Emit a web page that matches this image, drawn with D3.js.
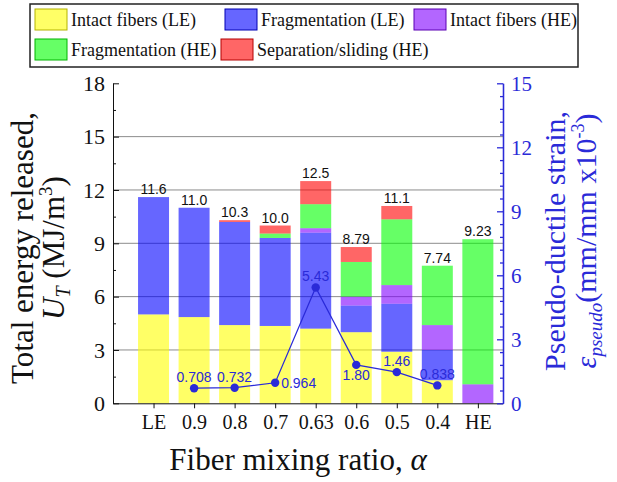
<!DOCTYPE html>
<html>
<head>
<meta charset="utf-8">
<script src="https://cdn.jsdelivr.net/npm/d3@7"></script>
<style>
  body { margin: 0; background: #fff; }
  .serif { font-family: "Liberation Serif", "Times New Roman", serif; }
  .sans { font-family: "Liberation Sans", Arial, sans-serif; }
</style>
</head>
<body>
<svg id="chart" width="617" height="482"></svg>
<script>
// Chart data
var categories = ["LE", "0.9", "0.8", "0.7", "0.63", "0.6", "0.5", "0.4", "HE"];
var intactLE = [5.0, 4.85, 4.4, 4.35, 4.2, 4.0, 2.9, 1.3, 0];
var fragLE = [6.6, 6.15, 5.8, 4.95, 5.4, 1.5, 2.7, 1.7, 0];
var intactHE = [0, 0, 0, 0, 0.25, 0.5, 1.05, 1.4, 1.07];
var fragHE = [0, 0, 0, 0.25, 1.35, 1.95, 3.7, 3.34, 8.16];
var sepHE = [0, 0, 0.1, 0.45, 1.3, 0.84, 0.75, 0, 0];
var totalLabels = ["11.6", "11.0", "10.3", "10.0", "12.5", "8.79", "11.1", "7.74", "9.23"];

var strainCats = ["0.9", "0.8", "0.7", "0.63", "0.6", "0.5", "0.4"];
var strainValues = [0.708, 0.732, 0.964, 5.43, 1.80, 1.46, 0.838];
var strainLabels = ["0.708", "0.732", "0.964", "5.43", "1.80", "1.46", "0.838"];

var leftTicks = [0, 3, 6, 9, 12, 15, 18];
var rightTicks = [0, 3, 6, 9, 12, 15];

var seriesKeys = ["intactLE", "fragLE", "intactHE", "fragHE", "sepHE"];
var seriesNames = ["Intact fibers (LE)", "Fragmentation (LE)", "Intact fibers (HE)", "Fragmentation (HE)", "Separation/sliding (HE)"];

// styles
var COLORS = ["#ffff00", "#0000ff", "#8000ff", "#00ff00", "#ff0000"];
var BLUE = "#2a2ad8";
var LABEL_POS = ["above", "above", "right", "above", "below", "above", "above"];

var svg = d3.select("#chart");

var x = d3.scaleLinear().domain([0, 9.62]).range([113, 503]);
var yL = d3.scaleLinear().domain([0, 18]).range([403.3, 83.3]);
var yR = d3.scaleLinear().domain([0, 15]).range([403.3, 83.3]);
var BAR_W = 31;

// table for the stack
var table = categories.map(function (c, i) {
  return {cat: c, idx: i + 1, intactLE: intactLE[i], fragLE: fragLE[i],
          intactHE: intactHE[i], fragHE: fragHE[i], sepHE: sepHE[i]};
});
var stacked = d3.stack().keys(seriesKeys)(table);

// grid lines
svg.append("g").selectAll("line")
  .data([3, 6, 9, 12, 15])
  .enter().append("line")
  .attr("x1", x(0)).attr("x2", x(9.62))
  .attr("y1", function (d) { return yL(d); })
  .attr("y2", function (d) { return yL(d); })
  .attr("stroke", "#8c8c8c")
  .attr("stroke-width", 1);

// bars
svg.append("g").selectAll("g")
  .data(stacked)
  .enter().append("g")
  .attr("fill", function (d, i) { return COLORS[i]; })
  .attr("fill-opacity", 0.6)
  .selectAll("rect")
  .data(function (d) { return d; })
  .enter().append("rect")
  .attr("x", function (d) { return x(d.data.idx) - BAR_W / 2; })
  .attr("width", BAR_W)
  .attr("y", function (d) { return yL(d[1]); })
  .attr("height", function (d) { return yL(d[0]) - yL(d[1]); });

// totals above bars
svg.append("g").selectAll("text")
  .data(table)
  .enter().append("text")
  .attr("class", "sans")
  .attr("x", function (d) { return x(d.idx); })
  .attr("y", function (d) { return yL(d.intactLE + d.fragLE + d.intactHE + d.fragHE + d.sepHE) - 3; })
  .attr("text-anchor", "middle")
  .attr("font-size", 14)
  .attr("fill", "#111")
  .text(function (d, i) { return totalLabels[i]; });

// left axis
var leftAxis = svg.append("g")
  .attr("transform", "translate(" + x(0) + ",0)")
  .call(d3.axisLeft(yL).tickValues(leftTicks).tickSize(-6).tickSizeOuter(0).tickPadding(8));
leftAxis.selectAll("text").attr("class", "serif").attr("font-size", 22).attr("fill", "#111");
leftAxis.selectAll("line, path").attr("stroke", "#111");
svg.append("g")
  .attr("transform", "translate(" + x(0) + ",0)")
  .call(d3.axisLeft(yL).tickValues([1.5, 4.5, 7.5, 10.5, 13.5, 16.5]).tickSize(-3).tickSizeOuter(0).tickFormat(""))
  .selectAll("line, path").attr("stroke", "#111");

// bottom axis
var bottomAxis = svg.append("g")
  .attr("transform", "translate(0," + yL(0) + ")")
  .call(d3.axisBottom(x).tickValues(d3.range(1, 10)).tickSize(5).tickSizeOuter(0).tickPadding(7)
    .tickFormat(function (d) { return categories[d - 1]; }));
bottomAxis.selectAll("text").attr("class", "serif").attr("font-size", 20).attr("fill", "#111");
bottomAxis.selectAll("line, path").attr("stroke", "#111");

// right axis
var rightAxis = svg.append("g")
  .attr("transform", "translate(" + x(9.62) + ",0)")
  .call(d3.axisRight(yR).tickValues(rightTicks).tickSize(-6).tickSizeOuter(0).tickPadding(8));
rightAxis.selectAll("text").attr("class", "serif").attr("font-size", 21).attr("fill", BLUE);
rightAxis.selectAll("line, path").attr("stroke", BLUE).attr("stroke-width", 1.3);
svg.append("g")
  .attr("transform", "translate(" + x(9.62) + ",0)")
  .call(d3.axisRight(yR).tickValues(d3.range(0, 15.01, 0.6).filter(function (v) {
      return Math.abs(v / 3 - Math.round(v / 3)) > 0.01; }))
    .tickSize(-3).tickSizeOuter(0).tickFormat(""))
  .selectAll("line, path").attr("stroke", BLUE).attr("stroke-width", 1.3);

// strain line
var strainX = function (d, i) { return x(categories.indexOf(strainCats[i]) + 1); };
svg.append("path")
  .datum(strainValues)
  .attr("fill", "none")
  .attr("stroke", BLUE)
  .attr("stroke-width", 1.2)
  .attr("d", d3.line().x(strainX).y(function (d) { return yR(d); }));

svg.append("g").selectAll("circle")
  .data(strainValues)
  .enter().append("circle")
  .attr("cx", strainX)
  .attr("cy", function (d) { return yR(d); })
  .attr("r", 4.2)
  .attr("fill", BLUE);

svg.append("g").selectAll("text")
  .data(strainValues)
  .enter().append("text")
  .attr("class", "sans")
  .attr("font-size", 14)
  .attr("fill", BLUE)
  .attr("text-anchor", function (d, i) { return LABEL_POS[i] == "right" ? "start" : "middle"; })
  .attr("x", function (d, i) {
    return LABEL_POS[i] == "right" ? strainX(d, i) + 6 : strainX(d, i);
  })
  .attr("y", function (d, i) {
    if (LABEL_POS[i] == "right") return yR(d) + 5;
    if (LABEL_POS[i] == "below") return yR(d) + 15;
    return yR(d) - 6;
  })
  .text(function (d, i) { return strainLabels[i]; });

// axis titles
var lt = svg.append("g").attr("class", "serif").attr("font-size", 31).attr("fill", "#111");
lt.append("text")
  .attr("transform", "translate(33,248) rotate(-90)")
  .attr("text-anchor", "middle")
  .text("Total energy released,");
var lt2 = lt.append("text")
  .attr("transform", "translate(64,248) rotate(-90)")
  .attr("text-anchor", "middle");
lt2.append("tspan").attr("font-style", "italic").text("U");
lt2.append("tspan").attr("font-style", "italic").attr("font-size", 20).attr("dy", 6).text("T");
lt2.append("tspan").attr("dy", -6).text(" (MJ/m");
lt2.append("tspan").attr("font-size", 19).attr("dy", -12).text("3");
lt2.append("tspan").attr("dy", 12).text(")");

var rt = svg.append("g").attr("class", "serif").attr("font-size", 30).attr("fill", BLUE);
rt.append("text")
  .attr("transform", "translate(565,241) rotate(-90)")
  .attr("text-anchor", "middle")
  .text("Pseudo-ductile strain,");
var rt2 = rt.append("text")
  .attr("transform", "translate(596,241) rotate(-90)")
  .attr("text-anchor", "middle");
rt2.append("tspan").attr("font-style", "italic").text("\u03b5");
rt2.append("tspan").attr("font-style", "italic").attr("font-size", 19).attr("dy", 6).text("pseudo");
rt2.append("tspan").attr("dy", -6).text("(mm/mm x10");
rt2.append("tspan").attr("font-size", 18).attr("dy", -12).text("-3");
rt2.append("tspan").attr("dy", 12).text(")");

var xt = svg.append("text")
  .attr("class", "serif")
  .attr("x", 298).attr("y", 470)
  .attr("text-anchor", "middle")
  .attr("font-size", 31)
  .attr("fill", "#111");
xt.append("tspan").text("Fiber mixing ratio, ");
xt.append("tspan").attr("font-style", "italic").text("\u03b1");

// legend
var legendRows = [[0, 35], [1, 225], [2, 414], [3, 35], [4, 221]];
var legend = svg.append("g");
legend.append("rect")
  .attr("x", 30).attr("y", 4).attr("width", 548).attr("height", 63)
  .attr("fill", "#fff").attr("stroke", "#222").attr("stroke-width", 1.5);
legendRows.forEach(function (r, k) {
  var top = k < 3 ? 9 : 39;
  var g = legend.append("g");
  g.append("rect")
    .attr("x", r[1]).attr("y", top).attr("width", 32).attr("height", 21)
    .attr("fill", COLORS[r[0]]).attr("fill-opacity", 0.6)
    .attr("stroke", d3.color(COLORS[r[0]]).darker(1)).attr("stroke-width", 1);
  g.append("text")
    .attr("class", "serif")
    .attr("x", r[1] + 36).attr("y", top + 17)
    .attr("font-size", 18)
    .attr("fill", "#111")
    .text(seriesNames[r[0]]);
});
</script>
</body>
</html>
